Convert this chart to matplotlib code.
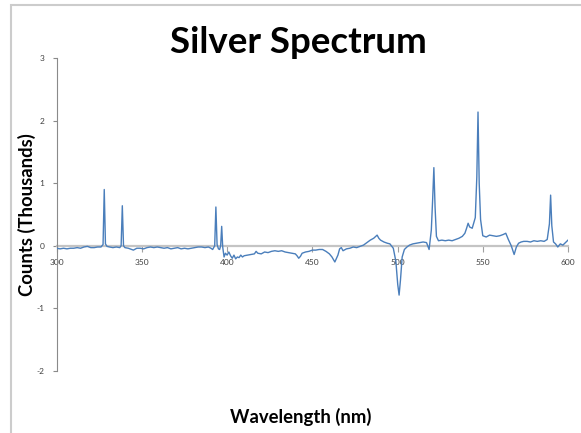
import matplotlib
matplotlib.use("Agg")
import matplotlib.pyplot as plt
from matplotlib.patches import Rectangle

plt.rcParams["font.family"] = ["Lato", "DejaVu Sans"]

# Spectrum samples: wavelength (nm) and counts (thousands)
wavelength = [
    300, 302, 304, 306, 308, 310, 312, 314, 316, 318, 320, 322, 324, 326,
    327.2, 327.9, 328.6, 329.5, 331, 333, 335, 337, 337.8, 338.5, 339.2,
    340, 342, 344, 345, 347, 349, 351, 353, 355, 357, 359, 361, 363, 365,
    367, 369, 371, 373, 375, 377, 379, 381, 383, 385, 387, 389, 390.5,
    391.5, 392.7, 393.4, 394.1, 394.9, 395.6, 396.2, 396.8, 397.4, 398.2,
    399, 400, 401, 402, 403, 404, 405, 406, 407, 408, 409, 410, 412, 414,
    416, 417, 418, 420, 422, 424, 426, 428, 430, 432, 434, 436, 438, 440,
    441, 442, 443, 444, 446, 448, 450, 452, 454, 456, 458, 460, 461.5,
    463.2, 465, 466, 467, 468, 470, 472, 474, 476, 478, 480, 482, 484, 486,
    488, 489, 490, 492, 494, 495.5, 497.5, 499, 500.1, 500.9, 501.7,
    502.7, 504, 505.5, 507, 509, 511, 513, 515, 517, 518.5, 519.8, 520.6,
    521.3, 522.0, 522.8, 524, 526, 528, 530, 532, 534, 536, 538, 539.5,
    540.5, 541.4, 542.3, 543.8, 545.6, 546.5, 547.2, 547.9, 548.7, 550, 552,
    554, 556, 558, 560, 562, 563.5, 565, 566.7, 568.4, 569.7, 571, 572.5,
    574, 576, 578, 580, 582, 584, 586, 587.8, 589.1, 589.8, 590.5, 591.5,
    592.7, 594, 595.5, 597, 598.5, 600,
]
counts = [
    -0.04, -0.05, -0.04, -0.05, -0.04, -0.04, -0.03, -0.04, -0.02, -0.01,
    -0.03, -0.03, -0.02, -0.02,
    0.02, 0.90, 0.03, -0.01, -0.02, -0.03, -0.02, -0.03, 0.00, 0.64, 0.00,
    -0.03, -0.04, -0.06, -0.07, -0.04, -0.04, -0.05, -0.03, -0.02, -0.03,
    -0.02, -0.03, -0.04, -0.03, -0.05, -0.04, -0.03, -0.05, -0.04, -0.05,
    -0.04, -0.03, -0.02, -0.02, -0.03, -0.02, -0.04,
    -0.06, 0.00, 0.62, 0.02, -0.05, -0.06, 0.00, 0.31, -0.02, -0.18,
    -0.12, -0.15, -0.10, -0.16, -0.20, -0.15, -0.21, -0.18, -0.19, -0.15,
    -0.18, -0.16, -0.15, -0.14,
    -0.13, -0.09, -0.12, -0.13, -0.10, -0.11, -0.09, -0.08, -0.09, -0.08,
    -0.10, -0.11, -0.12, -0.13,
    -0.16, -0.20, -0.17, -0.12, -0.10, -0.09, -0.07, -0.07, -0.06, -0.06,
    -0.09, -0.13, -0.18,
    -0.26, -0.15, -0.05, -0.03, -0.08, -0.05, -0.04, -0.02, -0.03, -0.01,
    0.01, 0.05, 0.09, 0.12,
    0.17, 0.12, 0.09, 0.06, 0.04, 0.03, -0.04, -0.25, -0.62, -0.79, -0.55,
    -0.18, -0.06, -0.02, 0.01, 0.03, 0.04, 0.05, 0.06, 0.05, -0.06, 0.25,
    0.75,
    1.25, 0.62, 0.15, 0.08, 0.09, 0.08, 0.09, 0.08, 0.10, 0.12, 0.15, 0.20,
    0.28, 0.36, 0.30, 0.28, 0.45, 1.10, 2.14, 1.00, 0.42, 0.16, 0.14,
    0.17, 0.16, 0.15, 0.16, 0.18, 0.20, 0.10, 0.00, -0.14, -0.02, 0.04, 0.06,
    0.07, 0.07, 0.06, 0.08, 0.07, 0.08, 0.07, 0.10, 0.35, 0.81, 0.32, 0.06,
    0.03, -0.02, 0.03, 0.01, 0.05, 0.09,
]
x_ticks = [300, 350, 400, 450, 500, 550, 600]
y_ticks = [-2, -1, 0, 1, 2, 3]

W, H = 581, 433
fig = plt.figure(figsize=(W / 100, H / 100), dpi=100)
fig.patch.set_facecolor("white")

# light frame around the chart area
fig.patches.append(Rectangle((11 / W, -0.05), 1.2, 1 - 4.7 / H + 0.05,
                             transform=fig.transFigure, fill=False,
                             edgecolor="#cccccc", linewidth=1.5))

ax = fig.add_axes([56.7 / W, 1 - 370.7 / H, (568 - 56.7) / W,
                   (370.7 - 58.3) / H])

for side in ("top", "right"):
    ax.spines[side].set_visible(False)
ax.spines["bottom"].set_position(("data", 0))
ax.spines["bottom"].set_color("#c4c4c4")
ax.spines["bottom"].set_linewidth(1.6)
ax.spines["bottom"].set_zorder(2)
ax.spines["left"].set_color("#8a8a8a")
ax.spines["left"].set_linewidth(0.8)

ax.plot(wavelength, counts, color="#4a7ebb", linewidth=1.0, zorder=3)

ax.set_xlim(300, 600)
ax.set_ylim(-2, 3)
ax.set_xticks(x_ticks)
ax.set_yticks(y_ticks)
ax.set_xticklabels([str(t) for t in x_ticks])
ax.set_yticklabels([str(t) for t in y_ticks])

ax.tick_params(axis="x", direction="out", length=4, width=0.8,
               color="#a0a0a0", pad=5.5, labelsize=6, labelcolor="#404040")
ax.tick_params(axis="y", direction="out", length=3, width=0.8,
               color="#8a8a8a", pad=6, labelsize=6, labelcolor="#404040")

fig.text(298.5 / W, 1 - 53 / H, "Silver Spectrum", ha="center",
         va="baseline", weight="bold", size=26.4, color="black")
fig.text(27 / W, 1 - 214.5 / H, "Counts (Thousands)", ha="center",
         va="center", rotation=90, weight="bold", size=13.3)
fig.text(301 / W, 1 - 423 / H, "Wavelength (nm)", ha="center",
         va="baseline", weight="bold", size=13.3)

fig.savefig("out.png", dpi=100)
